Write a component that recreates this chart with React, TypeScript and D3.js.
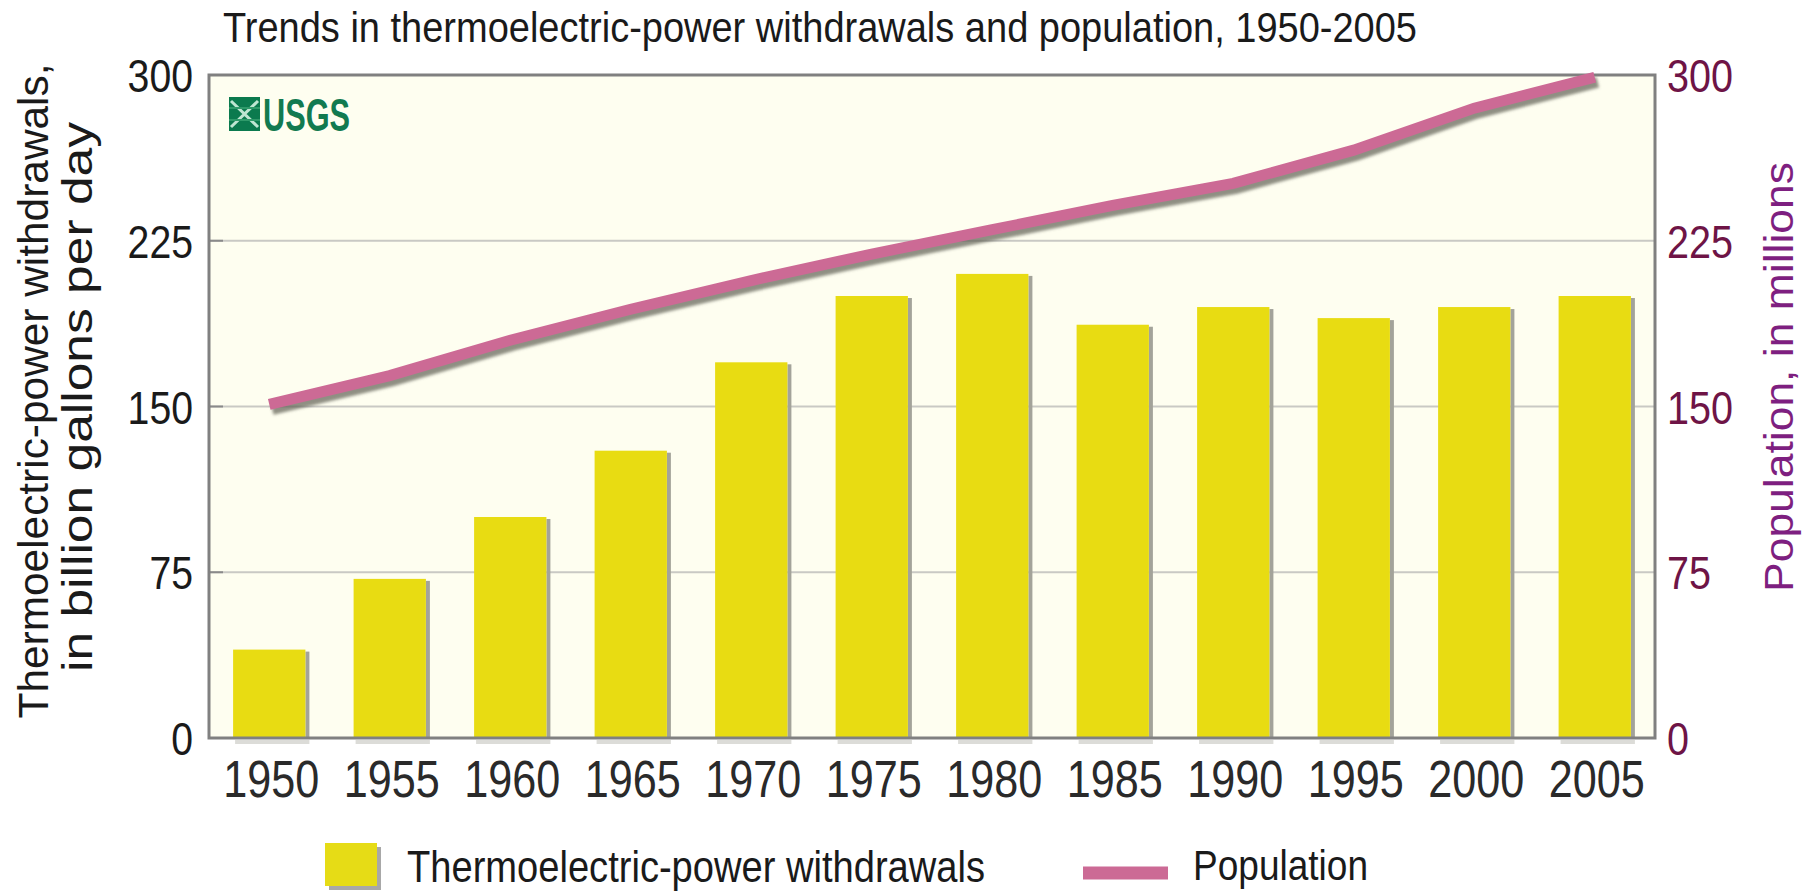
import React, { useEffect, useRef } from 'react';
import * as d3 from 'd3';

// values
const years = ['1950', '1955', '1960', '1965', '1970', '1975', '1980', '1985', '1990', '1995', '2000', '2005'];
const withdrawals = [40, 72, 100, 130, 170, 200, 210, 187, 195, 190, 195, 200];
const population = [151, 164, 180, 194, 207, 219, 230, 241, 251, 266, 285, 299];
const leftTicks = [0, 75, 150, 225, 300];
const rightTicks = [0, 75, 150, 225, 300];

const titleText = 'Trends in thermoelectric-power withdrawals and population, 1950-2005';
const leftTitle = ['Thermoelectric-power withdrawals,', 'in billion gallons per day'];
const rightTitle = 'Population, in millions';
const legendBar = 'Thermoelectric-power withdrawals';
const legendLine = 'Population';

const FONT = '"Liberation Sans Narrow", "Arial Narrow", "Liberation Sans", Arial, sans-serif';

function App() {
  const ref = useRef<SVGSVGElement>(null);

  useEffect(() => {
    document.body.style.margin = '0';
    const width = 1818;
    const height = 891;
    const margin = { top: 75, bottom: 153, left: 209, right: 163 };

    const svg = d3.select(ref.current);
    svg.selectAll('*').remove();
    svg.attr('width', width).attr('height', height);

    const defs = svg.append('defs');
    defs.append('filter')
      .attr('id', 'blur')
      .attr('x', '-10%').attr('y', '-10%').attr('width', '120%').attr('height', '120%')
      .append('feGaussianBlur')
      .attr('stdDeviation', 1.6);

    const xScale = d3.scaleBand<string>()
      .domain(years)
      .range([margin.left, width - margin.right])
      .paddingInner(0.4)
      .paddingOuter(0.2);

    const yScale = d3.scaleLinear()
      .domain([0, 300])
      .range([height - margin.bottom, margin.top]);

    const yRight = d3.scaleLinear()
      .domain([0, 300])
      .range([height - margin.bottom, margin.top]);

    const x0 = margin.left;
    const x1 = width - margin.right;
    const y0 = height - margin.bottom;

    // plot background
    svg.append('rect')
      .attr('x', x0).attr('y', margin.top)
      .attr('width', x1 - x0).attr('height', y0 - margin.top)
      .attr('fill', '#fefef0');

    // grid lines
    const grid = svg.append('g');
    grid.selectAll('line.grid')
      .data(leftTicks.filter(d => d > 0 && d < 300))
      .enter().append('line')
      .attr('x1', x0).attr('x2', x1)
      .attr('y1', d => yScale(d)).attr('y2', d => yScale(d))
      .attr('stroke', '#c9c9c4').attr('stroke-width', 2);
    grid.selectAll('line.tick')
      .data(leftTicks.filter(d => d > 0 && d < 300))
      .enter().append('line')
      .attr('x1', x0).attr('x2', x0 + 14)
      .attr('y1', d => yScale(d)).attr('y2', d => yScale(d))
      .attr('stroke', '#8a8a8a').attr('stroke-width', 2);

    // USGS logo
    const logo = svg.append('g');
    logo.append('rect')
      .attr('x', 229).attr('y', 97).attr('width', 31).attr('height', 34)
      .attr('fill', '#0b7a4e');
    logo.append('path')
      .attr('d', 'M231,101 L258,127 M258,101 L231,127')
      .attr('stroke', '#bfe6d2').attr('stroke-width', 3);
    logo.append('path')
      .attr('d', 'M229,108 L260,108 M229,120 L260,120')
      .attr('stroke', '#2f9a6a').attr('stroke-width', 2);
    logo.append('text')
      .attr('x', 263).attr('y', 131)
      .attr('textLength', 87).attr('lengthAdjust', 'spacingAndGlyphs')
      .style('font-family', FONT).style('font-weight', 'bold').style('font-size', '47px')
      .style('fill', '#127a50')
      .text('USGS');

    // bars with their grey shadows
    const bars = svg.append('g');
    bars.selectAll('rect.shadow')
      .data(withdrawals)
      .enter().append('rect')
      .attr('x', (d, i) => xScale(years[i])! + xScale.bandwidth())
      .attr('y', d => yScale(d) + 2)
      .attr('width', 4)
      .attr('height', d => y0 - yScale(d) - 2)
      .attr('fill', '#a3a39a');
    bars.selectAll('rect.under')
      .data(withdrawals)
      .enter().append('rect')
      .attr('x', (d, i) => xScale(years[i])! + 2)
      .attr('y', y0 + 2)
      .attr('width', xScale.bandwidth() + 2)
      .attr('height', 4)
      .attr('fill', '#dcdcd8');
    bars.selectAll('rect.bar')
      .data(withdrawals)
      .enter().append('rect')
      .attr('x', (d, i) => xScale(years[i])!)
      .attr('y', d => yScale(d))
      .attr('width', xScale.bandwidth())
      .attr('height', d => y0 - yScale(d))
      .attr('fill', '#e8dc12');

    // plot border
    svg.append('rect')
      .attr('x', x0).attr('y', margin.top)
      .attr('width', x1 - x0).attr('height', y0 - margin.top)
      .attr('fill', 'none')
      .attr('stroke', '#808080').attr('stroke-width', 3);

    // population line
    const line = d3.line<number>()
      .x((d, i) => xScale(years[i])! + xScale.bandwidth() / 2)
      .y(d => yRight(d));

    svg.append('path')
      .attr('d', line(population))
      .attr('transform', 'translate(3,5)')
      .attr('stroke', '#5f5f55').attr('stroke-opacity', 0.7)
      .attr('stroke-width', 11)
      .attr('fill', 'none')
      .attr('filter', 'url(#blur)');
    svg.append('path')
      .attr('d', line(population))
      .attr('stroke', '#cc6a95')
      .attr('stroke-width', 11)
      .attr('fill', 'none');

    // left tick labels
    svg.append('g').selectAll('text')
      .data(leftTicks)
      .enter().append('text')
      .attr('x', 193)
      .attr('y', d => yScale(d) + 17)
      .attr('text-anchor', 'end')
      .attr('textLength', d => String(d).length * 21.8)
      .attr('lengthAdjust', 'spacingAndGlyphs')
      .style('font-family', FONT).style('font-size', '46px')
      .style('fill', '#1a1a1a')
      .text(d => d);

    // right tick labels
    svg.append('g').selectAll('text')
      .data(rightTicks)
      .enter().append('text')
      .attr('x', 1667)
      .attr('y', d => yRight(d) + 17)
      .attr('textLength', d => String(d).length * 22)
      .attr('lengthAdjust', 'spacingAndGlyphs')
      .style('font-family', FONT).style('font-size', '46px')
      .style('fill', '#6e1446')
      .text(d => d);

    // x labels
    svg.append('g').selectAll('text')
      .data(years)
      .enter().append('text')
      .attr('x', d => xScale(d)! + xScale.bandwidth() / 2 + 2)
      .attr('y', 797)
      .attr('text-anchor', 'middle')
      .attr('textLength', 96)
      .attr('lengthAdjust', 'spacingAndGlyphs')
      .style('font-family', FONT).style('font-size', '52px')
      .style('fill', '#2a2a2a')
      .text(d => d);

    // title
    svg.append('text')
      .attr('x', 223).attr('y', 42)
      .attr('textLength', 1194)
      .attr('lengthAdjust', 'spacingAndGlyphs')
      .style('font-family', FONT).style('font-size', '43px')
      .style('fill', '#1a1a1a')
      .text(titleText);

    // left axis title
    svg.append('text')
      .attr('transform', 'translate(48,391) rotate(-90)')
      .attr('text-anchor', 'middle')
      .attr('textLength', 655)
      .attr('lengthAdjust', 'spacingAndGlyphs')
      .style('font-family', FONT).style('font-size', '43px')
      .style('fill', '#1a1a1a')
      .text(leftTitle[0]);
    svg.append('text')
      .attr('transform', 'translate(92,397) rotate(-90)')
      .attr('text-anchor', 'middle')
      .attr('textLength', 550)
      .attr('lengthAdjust', 'spacingAndGlyphs')
      .style('font-family', FONT).style('font-size', '43px')
      .style('fill', '#1a1a1a')
      .text(leftTitle[1]);

    // right axis title
    svg.append('text')
      .attr('transform', 'translate(1793,377) rotate(-90)')
      .attr('text-anchor', 'middle')
      .attr('textLength', 430)
      .attr('lengthAdjust', 'spacingAndGlyphs')
      .style('font-family', FONT).style('font-size', '41px')
      .style('fill', '#7e1f80')
      .text(rightTitle);

    // legend
    const legend = svg.append('g');
    legend.append('rect')
      .attr('x', 329).attr('y', 847).attr('width', 52).attr('height', 43)
      .attr('fill', '#a8a8a8');
    legend.append('rect')
      .attr('x', 325).attr('y', 843).attr('width', 52).attr('height', 43)
      .attr('fill', '#e6dc16');
    legend.append('text')
      .attr('x', 407).attr('y', 882)
      .attr('textLength', 578)
      .attr('lengthAdjust', 'spacingAndGlyphs')
      .style('font-family', FONT).style('font-size', '44px')
      .style('fill', '#1a1a1a')
      .text(legendBar);

    legend.append('line')
      .attr('x1', 1083).attr('x2', 1172).attr('y1', 875).attr('y2', 875)
      .attr('stroke', '#6f6f66').attr('stroke-opacity', 0.5)
      .attr('stroke-width', 18)
      .attr('filter', 'url(#blur)');
    legend.append('line')
      .attr('x1', 1083).attr('x2', 1168).attr('y1', 873).attr('y2', 873)
      .attr('stroke', '#cc6a95')
      .attr('stroke-width', 13);
    legend.append('text')
      .attr('x', 1193).attr('y', 880)
      .attr('textLength', 175)
      .attr('lengthAdjust', 'spacingAndGlyphs')
      .style('font-family', FONT).style('font-size', '43px')
      .style('fill', '#1a1a1a')
      .text(legendLine);
  }, []);

  return (
    <svg ref={ref} style={{ position: 'absolute', left: 0, top: 0, background: '#ffffff' }} />
  );
}

export default App;
